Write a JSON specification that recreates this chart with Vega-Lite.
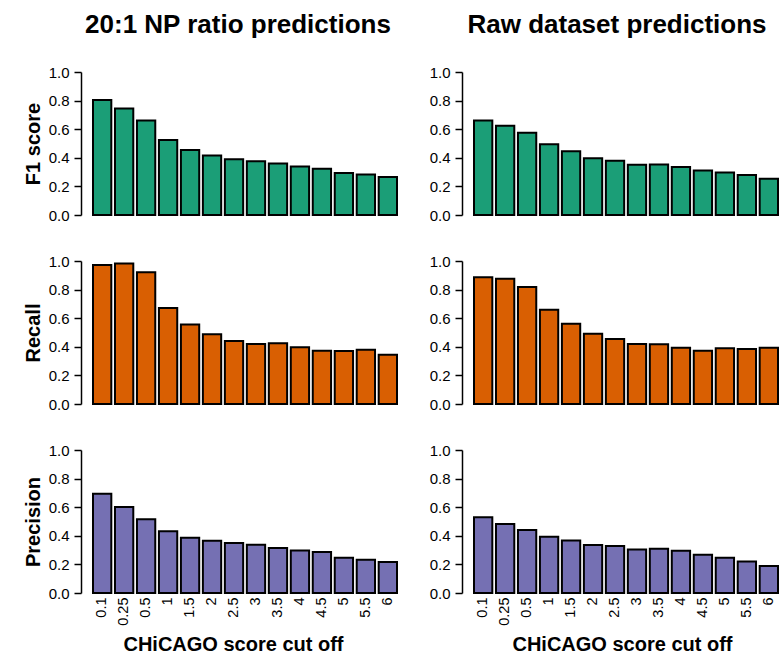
{
  "$schema": "https://vega.github.io/schema/vega-lite/v6.json",
  "background": "white",
  "padding": {"left": 23, "top": 12, "right": 0, "bottom": 0},
  "config": {
    "font": "Liberation Sans",
    "view": {"stroke": null},
    "axis": {"labelFont": "Liberation Sans", "titleFont": "Liberation Sans", "labelColor": "black", "titleColor": "black", "domainColor": "black", "tickColor": "black", "grid": false},
    "title": {"font": "Liberation Sans", "fontSize": 26, "fontWeight": "bold", "color": "black"}
  },
  "datasets": {
    "scores": [
      {"dataset": "np", "metric": "F1", "cutoff": "0.1", "value": 0.805},
      {"dataset": "np", "metric": "F1", "cutoff": "0.25", "value": 0.745},
      {"dataset": "np", "metric": "F1", "cutoff": "0.5", "value": 0.66},
      {"dataset": "np", "metric": "F1", "cutoff": "1", "value": 0.525},
      {"dataset": "np", "metric": "F1", "cutoff": "1.5", "value": 0.455},
      {"dataset": "np", "metric": "F1", "cutoff": "2", "value": 0.416},
      {"dataset": "np", "metric": "F1", "cutoff": "2.5", "value": 0.389},
      {"dataset": "np", "metric": "F1", "cutoff": "3", "value": 0.376},
      {"dataset": "np", "metric": "F1", "cutoff": "3.5", "value": 0.36},
      {"dataset": "np", "metric": "F1", "cutoff": "4", "value": 0.34},
      {"dataset": "np", "metric": "F1", "cutoff": "4.5", "value": 0.324},
      {"dataset": "np", "metric": "F1", "cutoff": "5", "value": 0.294},
      {"dataset": "np", "metric": "F1", "cutoff": "5.5", "value": 0.284},
      {"dataset": "np", "metric": "F1", "cutoff": "6", "value": 0.266},
      {"dataset": "raw", "metric": "F1", "cutoff": "0.1", "value": 0.66},
      {"dataset": "raw", "metric": "F1", "cutoff": "0.25", "value": 0.624},
      {"dataset": "raw", "metric": "F1", "cutoff": "0.5", "value": 0.575},
      {"dataset": "raw", "metric": "F1", "cutoff": "1", "value": 0.494},
      {"dataset": "raw", "metric": "F1", "cutoff": "1.5", "value": 0.445},
      {"dataset": "raw", "metric": "F1", "cutoff": "2", "value": 0.396},
      {"dataset": "raw", "metric": "F1", "cutoff": "2.5", "value": 0.38},
      {"dataset": "raw", "metric": "F1", "cutoff": "3", "value": 0.352},
      {"dataset": "raw", "metric": "F1", "cutoff": "3.5", "value": 0.353},
      {"dataset": "raw", "metric": "F1", "cutoff": "4", "value": 0.336},
      {"dataset": "raw", "metric": "F1", "cutoff": "4.5", "value": 0.312},
      {"dataset": "raw", "metric": "F1", "cutoff": "5", "value": 0.298},
      {"dataset": "raw", "metric": "F1", "cutoff": "5.5", "value": 0.28},
      {"dataset": "raw", "metric": "F1", "cutoff": "6", "value": 0.254},
      {"dataset": "np", "metric": "Recall", "cutoff": "0.1", "value": 0.972},
      {"dataset": "np", "metric": "Recall", "cutoff": "0.25", "value": 0.983},
      {"dataset": "np", "metric": "Recall", "cutoff": "0.5", "value": 0.921},
      {"dataset": "np", "metric": "Recall", "cutoff": "1", "value": 0.672},
      {"dataset": "np", "metric": "Recall", "cutoff": "1.5", "value": 0.556},
      {"dataset": "np", "metric": "Recall", "cutoff": "2", "value": 0.487},
      {"dataset": "np", "metric": "Recall", "cutoff": "2.5", "value": 0.44},
      {"dataset": "np", "metric": "Recall", "cutoff": "3", "value": 0.419},
      {"dataset": "np", "metric": "Recall", "cutoff": "3.5", "value": 0.424},
      {"dataset": "np", "metric": "Recall", "cutoff": "4", "value": 0.396},
      {"dataset": "np", "metric": "Recall", "cutoff": "4.5", "value": 0.373},
      {"dataset": "np", "metric": "Recall", "cutoff": "5", "value": 0.37},
      {"dataset": "np", "metric": "Recall", "cutoff": "5.5", "value": 0.38},
      {"dataset": "np", "metric": "Recall", "cutoff": "6", "value": 0.345},
      {"dataset": "raw", "metric": "Recall", "cutoff": "0.1", "value": 0.886},
      {"dataset": "raw", "metric": "Recall", "cutoff": "0.25", "value": 0.876},
      {"dataset": "raw", "metric": "Recall", "cutoff": "0.5", "value": 0.818},
      {"dataset": "raw", "metric": "Recall", "cutoff": "1", "value": 0.659},
      {"dataset": "raw", "metric": "Recall", "cutoff": "1.5", "value": 0.561},
      {"dataset": "raw", "metric": "Recall", "cutoff": "2", "value": 0.491},
      {"dataset": "raw", "metric": "Recall", "cutoff": "2.5", "value": 0.454},
      {"dataset": "raw", "metric": "Recall", "cutoff": "3", "value": 0.419},
      {"dataset": "raw", "metric": "Recall", "cutoff": "3.5", "value": 0.417},
      {"dataset": "raw", "metric": "Recall", "cutoff": "4", "value": 0.394},
      {"dataset": "raw", "metric": "Recall", "cutoff": "4.5", "value": 0.373},
      {"dataset": "raw", "metric": "Recall", "cutoff": "5", "value": 0.389},
      {"dataset": "raw", "metric": "Recall", "cutoff": "5.5", "value": 0.384},
      {"dataset": "raw", "metric": "Recall", "cutoff": "6", "value": 0.394},
      {"dataset": "np", "metric": "Precision", "cutoff": "0.1", "value": 0.694},
      {"dataset": "np", "metric": "Precision", "cutoff": "0.25", "value": 0.602},
      {"dataset": "np", "metric": "Precision", "cutoff": "0.5", "value": 0.516},
      {"dataset": "np", "metric": "Precision", "cutoff": "1", "value": 0.432},
      {"dataset": "np", "metric": "Precision", "cutoff": "1.5", "value": 0.386},
      {"dataset": "np", "metric": "Precision", "cutoff": "2", "value": 0.365},
      {"dataset": "np", "metric": "Precision", "cutoff": "2.5", "value": 0.349},
      {"dataset": "np", "metric": "Precision", "cutoff": "3", "value": 0.337},
      {"dataset": "np", "metric": "Precision", "cutoff": "3.5", "value": 0.314},
      {"dataset": "np", "metric": "Precision", "cutoff": "4", "value": 0.298},
      {"dataset": "np", "metric": "Precision", "cutoff": "4.5", "value": 0.286},
      {"dataset": "np", "metric": "Precision", "cutoff": "5", "value": 0.247},
      {"dataset": "np", "metric": "Precision", "cutoff": "5.5", "value": 0.233},
      {"dataset": "np", "metric": "Precision", "cutoff": "6", "value": 0.216},
      {"dataset": "raw", "metric": "Precision", "cutoff": "0.1", "value": 0.53},
      {"dataset": "raw", "metric": "Precision", "cutoff": "0.25", "value": 0.483},
      {"dataset": "raw", "metric": "Precision", "cutoff": "0.5", "value": 0.441},
      {"dataset": "raw", "metric": "Precision", "cutoff": "1", "value": 0.393},
      {"dataset": "raw", "metric": "Precision", "cutoff": "1.5", "value": 0.367},
      {"dataset": "raw", "metric": "Precision", "cutoff": "2", "value": 0.335},
      {"dataset": "raw", "metric": "Precision", "cutoff": "2.5", "value": 0.328},
      {"dataset": "raw", "metric": "Precision", "cutoff": "3", "value": 0.305},
      {"dataset": "raw", "metric": "Precision", "cutoff": "3.5", "value": 0.309},
      {"dataset": "raw", "metric": "Precision", "cutoff": "4", "value": 0.295},
      {"dataset": "raw", "metric": "Precision", "cutoff": "4.5", "value": 0.267},
      {"dataset": "raw", "metric": "Precision", "cutoff": "5", "value": 0.247},
      {"dataset": "raw", "metric": "Precision", "cutoff": "5.5", "value": 0.221},
      {"dataset": "raw", "metric": "Precision", "cutoff": "6", "value": 0.189}
    ]
  },
  "data": {"name": "scores"},
  "columns": 2,
  "bounds": "flush",
  "spacing": {"row": 46, "column": 77},
  "concat": [
    {
      "width": 304, "height": 143,
      "title": {"text": "20:1 NP ratio predictions", "frame": "group", "anchor": "middle", "baseline": "alphabetic", "offset": 6, "dx": -7},
      "transform": [{"filter": "datum.dataset === 'np' && datum.metric === 'F1'"}],
      "mark": {"type": "bar", "fill": "#1B9E77", "stroke": "black", "strokeWidth": 2},
      "encoding": {
        "x": {"field": "cutoff", "type": "nominal", "sort": ["0.1","0.25","0.5","1","1.5","2","2.5","3","3.5","4","4.5","5","5.5","6"], "scale": {"paddingInner": 0.1667, "paddingOuter": 0}, "axis": null},
        "y": {"field": "value", "type": "quantitative", "scale": {"domain": [0, 1]}, "axis": {"title": "F1 score", "values": [0, 0.2, 0.4, 0.6, 0.8, 1], "format": ".1f", "offset": 12, "tickSize": 7, "tickWidth": 1.5, "domainWidth": 1.5, "labelFontSize": 15, "labelPadding": 5, "titleFontSize": 20, "titleFontWeight": "bold", "titlePadding": 5}}
      }
    },
    {
      "width": 304, "height": 143,
      "title": {"text": "Raw dataset predictions", "frame": "group", "anchor": "middle", "baseline": "alphabetic", "offset": 6, "dx": -9},
      "transform": [{"filter": "datum.dataset === 'raw' && datum.metric === 'F1'"}],
      "mark": {"type": "bar", "fill": "#1B9E77", "stroke": "black", "strokeWidth": 2},
      "encoding": {
        "x": {"field": "cutoff", "type": "nominal", "sort": ["0.1","0.25","0.5","1","1.5","2","2.5","3","3.5","4","4.5","5","5.5","6"], "scale": {"paddingInner": 0.1667, "paddingOuter": 0}, "axis": null},
        "y": {"field": "value", "type": "quantitative", "scale": {"domain": [0, 1]}, "axis": {"title": null, "values": [0, 0.2, 0.4, 0.6, 0.8, 1], "format": ".1f", "offset": 12, "tickSize": 7, "tickWidth": 1.5, "domainWidth": 1.5, "labelFontSize": 15, "labelPadding": 5}}
      }
    },
    {
      "width": 304, "height": 143,
      "transform": [{"filter": "datum.dataset === 'np' && datum.metric === 'Recall'"}],
      "mark": {"type": "bar", "fill": "#D95F02", "stroke": "black", "strokeWidth": 2},
      "encoding": {
        "x": {"field": "cutoff", "type": "nominal", "sort": ["0.1","0.25","0.5","1","1.5","2","2.5","3","3.5","4","4.5","5","5.5","6"], "scale": {"paddingInner": 0.1667, "paddingOuter": 0}, "axis": null},
        "y": {"field": "value", "type": "quantitative", "scale": {"domain": [0, 1]}, "axis": {"title": "Recall", "values": [0, 0.2, 0.4, 0.6, 0.8, 1], "format": ".1f", "offset": 12, "tickSize": 7, "tickWidth": 1.5, "domainWidth": 1.5, "labelFontSize": 15, "labelPadding": 5, "titleFontSize": 20, "titleFontWeight": "bold", "titlePadding": 5}}
      }
    },
    {
      "width": 304, "height": 143,
      "transform": [{"filter": "datum.dataset === 'raw' && datum.metric === 'Recall'"}],
      "mark": {"type": "bar", "fill": "#D95F02", "stroke": "black", "strokeWidth": 2},
      "encoding": {
        "x": {"field": "cutoff", "type": "nominal", "sort": ["0.1","0.25","0.5","1","1.5","2","2.5","3","3.5","4","4.5","5","5.5","6"], "scale": {"paddingInner": 0.1667, "paddingOuter": 0}, "axis": null},
        "y": {"field": "value", "type": "quantitative", "scale": {"domain": [0, 1]}, "axis": {"title": null, "values": [0, 0.2, 0.4, 0.6, 0.8, 1], "format": ".1f", "offset": 12, "tickSize": 7, "tickWidth": 1.5, "domainWidth": 1.5, "labelFontSize": 15, "labelPadding": 5}}
      }
    },
    {
      "width": 304, "height": 143,
      "transform": [{"filter": "datum.dataset === 'np' && datum.metric === 'Precision'"}],
      "mark": {"type": "bar", "fill": "#7570B3", "stroke": "black", "strokeWidth": 2},
      "encoding": {
        "x": {"field": "cutoff", "type": "nominal", "sort": ["0.1","0.25","0.5","1","1.5","2","2.5","3","3.5","4","4.5","5","5.5","6"], "scale": {"paddingInner": 0.1667, "paddingOuter": 0}, "axis": {"title": "CHiCAGO score cut off", "labelAngle": 270, "domain": false, "ticks": false, "labelPadding": 4, "labelFontSize": 14.5, "titleFontSize": 20, "titleFontWeight": "bold", "titlePadding": 9, "titleX": 140}},
        "y": {"field": "value", "type": "quantitative", "scale": {"domain": [0, 1]}, "axis": {"title": "Precision", "values": [0, 0.2, 0.4, 0.6, 0.8, 1], "format": ".1f", "offset": 12, "tickSize": 7, "tickWidth": 1.5, "domainWidth": 1.5, "labelFontSize": 15, "labelPadding": 5, "titleFontSize": 20, "titleFontWeight": "bold", "titlePadding": 5}}
      }
    },
    {
      "width": 304, "height": 143,
      "transform": [{"filter": "datum.dataset === 'raw' && datum.metric === 'Precision'"}],
      "mark": {"type": "bar", "fill": "#7570B3", "stroke": "black", "strokeWidth": 2},
      "encoding": {
        "x": {"field": "cutoff", "type": "nominal", "sort": ["0.1","0.25","0.5","1","1.5","2","2.5","3","3.5","4","4.5","5","5.5","6"], "scale": {"paddingInner": 0.1667, "paddingOuter": 0}, "axis": {"title": "CHiCAGO score cut off", "labelAngle": 270, "domain": false, "ticks": false, "labelPadding": 4, "labelFontSize": 14.5, "titleFontSize": 20, "titleFontWeight": "bold", "titlePadding": 9, "titleX": 148}},
        "y": {"field": "value", "type": "quantitative", "scale": {"domain": [0, 1]}, "axis": {"title": null, "values": [0, 0.2, 0.4, 0.6, 0.8, 1], "format": ".1f", "offset": 12, "tickSize": 7, "tickWidth": 1.5, "domainWidth": 1.5, "labelFontSize": 15, "labelPadding": 5}}
      }
    }
  ]
}
